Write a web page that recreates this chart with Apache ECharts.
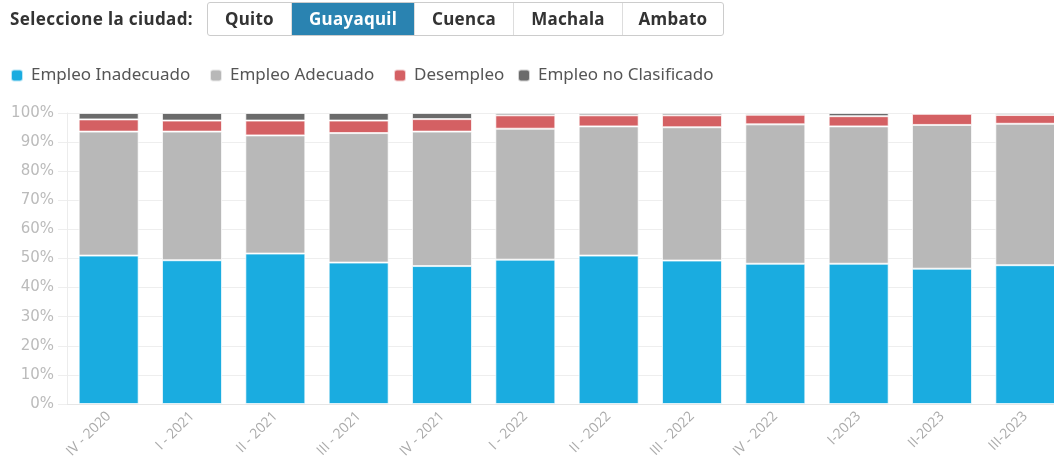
<!DOCTYPE html>
<html>
<head>
<meta charset="utf-8">
<script src="https://cdn.jsdelivr.net/npm/echarts@6/dist/echarts.min.js"></script>
<style>
  body { margin: 0; background: #fff; font-family: "Noto Sans", sans-serif; }
  .wrap { position: relative; width: 1054px; height: 464px; overflow: hidden; }
  .lbl { position: absolute; left: 10px; top: 2px; height: 33px; line-height: 33px; font-weight: bold; font-size: 17px; letter-spacing: 0.4px; color: #333; z-index: 2; }
  .btns { position: absolute; left: 207px; top: 2px; display: flex; border: 1px solid #ccc; border-radius: 3px; overflow: hidden; z-index: 2; }
  .btns span { display: block; height: 32px; line-height: 32px; font-weight: bold; font-size: 17px; letter-spacing: 0.3px; color: #333; text-align: center; border-left: 1px solid #ddd; box-sizing: border-box; }
  .btns span:first-child { border-left: none; }
  .btns span.on { background: #2a83b1; color: #fff; }
  #chart { position: absolute; left: 0; top: 0; width: 1075px; height: 464px; }
</style>
</head>
<body>
<div class="wrap">
  <div class="lbl">Seleccione la ciudad:</div>
  <div class="btns">
    <span style="width:83px">Quito</span>
    <span class="on" style="width:123px">Guayaquil</span>
    <span style="width:99px">Cuenca</span>
    <span style="width:109px">Machala</span>
    <span style="width:101px">Ambato</span>
  </div>
  <div id="chart"></div>
</div>
<script>
const periods = ['IV - 2020', 'I - 2021', 'II - 2021', 'III - 2021', 'IV - 2021', 'I - 2022',
  'II - 2022', 'III - 2022', 'IV - 2022', 'I-2023', 'II-2023', 'III-2023'];
const inadecuado = [51.0, 49.4, 51.7, 48.6, 47.4, 49.6, 51.0, 49.3, 48.2, 48.2, 46.5, 47.7];
const adecuado = [42.6, 44.2, 40.6, 44.5, 46.2, 45.0, 44.4, 45.8, 47.9, 47.2, 49.4, 48.6];
const desempleo = [4.2, 3.8, 5.1, 4.3, 4.3, 4.6, 3.8, 4.1, 3.3, 3.5, 3.8, 3.0];
const noClasificado = [2.2, 2.6, 2.6, 2.6, 2.1, 0.8, 0.8, 0.8, 0.6, 1.1, 0.3, 0.7];
const seriesNames = ['Empleo Inadecuado', 'Empleo Adecuado', 'Desempleo', 'Empleo no Clasificado'];
const colors = ['#1aace0', '#b8b8b8', '#d46063', '#6b6b6b'];
const yTicks = [0, 10, 20, 30, 40, 50, 60, 70, 80, 90, 100];

const chart = echarts.init(document.getElementById('chart'));

const mk = (i, data) => ({
  name: seriesNames[i],
  type: 'bar',
  stack: 'total',
  data: data,
  barWidth: 60,
  itemStyle: {
    color: colors[i],
    borderColor: 'rgba(255,255,255,0.7)',
    borderWidth: 1
  }
});

// one legend per item so each sits where the original has it
const legendLeft = [10, 209, 393, 517];
const legends = seriesNames.map((n, i) => ({
  data: [n],
  left: legendLeft[i],
  top: 67,
  padding: 0,
  itemWidth: 12,
  itemHeight: 12,
  icon: 'roundRect',
  textStyle: { color: '#555', fontSize: 17, fontFamily: 'Noto Sans', padding: [0, 0, 0, 3] }
}));

chart.setOption({
  animation: false,
  textStyle: { fontFamily: 'Noto Sans' },
  legend: legends,
  grid: { left: 67, top: 113, height: 291, right: 8 },
  xAxis: {
    type: 'category',
    data: periods,
    axisLine: { lineStyle: { color: '#e6e6e6' } },
    axisTick: { alignWithLabel: true, length: 8, lineStyle: { color: '#e0e0e0' } },
    axisLabel: { rotate: 45, color: '#aaa', fontSize: 14, margin: 10, fontFamily: 'Open Sans' }
  },
  yAxis: {
    type: 'value',
    min: yTicks[0],
    max: yTicks[yTicks.length - 1],
    interval: 10,
    axisLine: { show: true, lineStyle: { color: '#ececec' } },
    axisTick: { show: true, length: 9, lineStyle: { color: '#eee' } },
    splitLine: { lineStyle: { color: '#eee' } },
    axisLabel: { formatter: '{value}%', color: '#bbb', fontSize: 15, margin: 13, fontFamily: 'DejaVu Sans' }
  },
  series: [
    mk(0, inadecuado),
    mk(1, adecuado),
    mk(2, desempleo),
    mk(3, noClasificado)
  ]
});

window.addEventListener('resize', () => chart.resize());
</script>
</body>
</html>
